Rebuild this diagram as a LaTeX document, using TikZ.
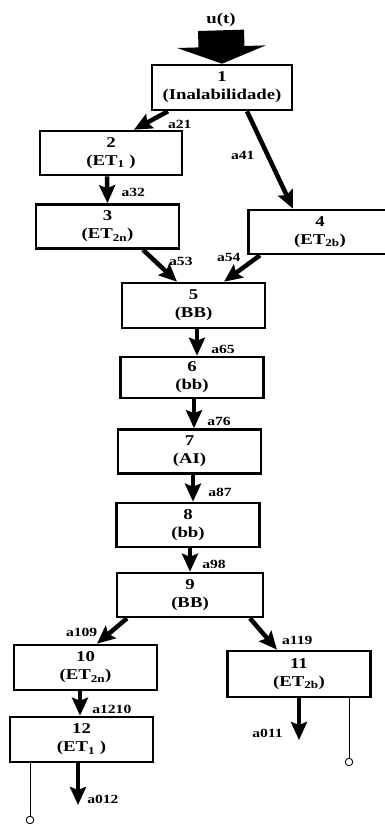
\documentclass[tikz,border=0pt]{standalone}
\usepackage{fontspec}
\setmainfont{Liberation Serif}[FakeStretch=1.25]
\usetikzlibrary{arrows.meta, calc}

\begin{document}
\begin{tikzpicture}[
    x=1pt, y=-1pt,
    font=\bfseries\fontsize{15}{18}\selectfont,
    every node/.style={align=center},
    block/.style={
        draw, line width=2.6pt, minimum width=143pt, minimum height=44pt, inner sep=0pt
    },
    lbl/.style={font=\bfseries\fontsize{12.5}{14}\selectfont, inner sep=0pt},
    flow/.style={line width=4.5pt, -{Stealth[length=18pt, width=16pt, inset=3pt]}},
    tap/.style={line width=0.9pt},
    port/.style={draw, circle, line width=0.9pt, minimum size=7.5pt, inner sep=0pt}
]
\useasboundingbox (0,0) rectangle (385,824);
\clip (0,0) rectangle (385,824);

% --------------------------------------------------------------------------
% Compartments of the flow chain, top to bottom.
% --------------------------------------------------------------------------
\node (ut) at (221,20) {u(t)};
\node[block, minimum width=140pt, minimum height=45pt] (n1) at (222,87.5) {1\\(Inalabilidade)};

% Upper branches.
\node[block, minimum width=142pt] (n2) at (111,153) {2\\(ET\textsubscript{1} )};
\node[block] (n3) at (107.5,226.5) {3\\(ET\textsubscript{2n})};
\node[block] (n4) at (320,232) {4\\(ET\textsubscript{2b})};

% Central chain.
\node[block, minimum height=45pt] (n5) at (193.5,305.5) {5\\(BB)};
\node[block, minimum height=41pt] (n6) at (192,377.5) {6\\(bb)};
\node[block] (n7) at (189.5,451.5) {7\\(AI)};
\node[block] (n8) at (188,525) {8\\(bb)};
\node[block, minimum width=146pt] (n9) at (190,595) {9\\(BB)};

% Lower branches.
\node[block, minimum height=45pt] (n10) at (85.5,667.5) {10\\(ET\textsubscript{2n})};
\node[block, minimum height=46pt] (n11) at (299,674) {11\\(ET\textsubscript{2b})};
\node[block, minimum height=45pt] (n12) at (81.5,739.5) {12\\(ET\textsubscript{1} )};

% Exits and measuring ports.
\coordinate (o12) at (78,805);
\coordinate (o11) at (299,740);
\node[port] (p12) at (30,820) {};
\node[port] (p11) at (349,762) {};

% Input.
\draw[line width=46pt, -{Triangle[length=17pt, width=88pt]}] (ut.south) -- (n1.north);

% Transfers between compartments.
\draw[flow] ([xshift=-54pt]n1.south) -- node[lbl, pos=0.3, anchor=west, xshift=8pt, yshift=-8pt] (l21) {a21} ([xshift=23pt]n2.north);
\draw[flow] ([xshift=25pt]n1.south) -- node[lbl, pos=0.45, anchor=east, xshift=-11pt] (l41) {a41} ([xshift=-27pt]n4.north);
\draw[flow] ([xshift=-4pt]n2.south) -- node[lbl, pos=0.6, anchor=west, xshift=12pt] (l32) {a32} (n3.north);
\draw[flow] ([xshift=35.5pt]n3.south) -- node[lbl, pos=0.35, anchor=west, xshift=12pt] (l53) {a53} ([xshift=-16.5pt]n5.north);
\draw[flow] ([xshift=-60pt]n4.south) -- node[lbl, pos=0.2, anchor=east, xshift=-10pt, yshift=3pt] (l54) {a54} ([xshift=30.5pt]n5.north);
\draw[flow] ([xshift=3.5pt]n5.south) -- node[lbl, pos=0.75, anchor=west, xshift=12pt] (l65) {a65} ([xshift=5pt]n6.north);
\draw[flow] ([xshift=2pt]n6.south) -- node[lbl, pos=0.75, anchor=west, xshift=11pt] (l76) {a76} ([xshift=4.5pt]n7.north);
\draw[flow] ([xshift=3.5pt]n7.south) -- node[lbl, pos=0.67, anchor=west, xshift=13pt] (l87) {a87} ([xshift=5pt]n8.north);
\draw[flow] ([xshift=2pt]n8.south) -- node[lbl, pos=0.7, anchor=west, xshift=10pt] (l98) {a98} (n9.north);
\draw[flow] ([xshift=-63pt]n9.south) -- node[lbl, pos=0.55, anchor=east, xshift=-11pt] (l109) {a109} ([xshift=11.5pt]n10.north);
\draw[flow] ([xshift=60pt]n9.south) -- node[lbl, pos=0.7, anchor=west, xshift=11pt] (l119) {a119} ([xshift=-22pt]n11.north);
\draw[flow] ([xshift=-5.5pt]n10.south) -- node[lbl, pos=0.74, anchor=west, xshift=10pt] (l1210) {a1210} ([xshift=-1.5pt]n12.north);

% Losses out of the system.
\draw[flow] ([xshift=-3.5pt]n12.south) -- node[lbl, pos=0.86, anchor=west, xshift=7pt] (l012) {a012} (o12);
\draw[flow] (n11.south) -- node[lbl, pos=0.84, anchor=east, xshift=-14pt] (l011) {a011} (o11);

% Sampling taps.
\draw[tap] ([xshift=-51.5pt]n12.south) -- (p12.north);
\draw[tap] ([xshift=50pt]n11.south) -- (p11.north);

\end{tikzpicture}
\end{document}
